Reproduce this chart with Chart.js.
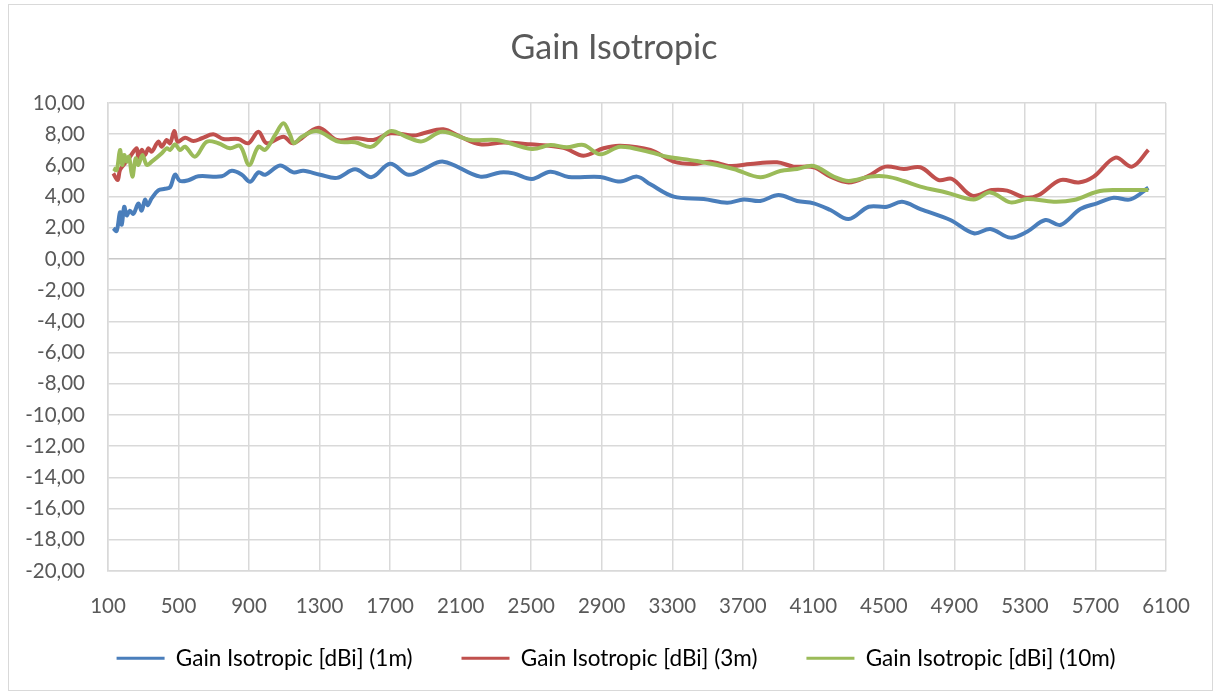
<!DOCTYPE html>
<html>
<head>
<meta charset="utf-8">
<title>Gain Isotropic</title>
<script src="https://cdn.jsdelivr.net/npm/chart.js@4.4.1/dist/chart.umd.min.js"></script>
<style>
  html, body { margin: 0; padding: 0; background: #fff; }
  #wrap { position: relative; width: 1218px; height: 693px; overflow: hidden; }
  #frame { position: absolute; left: 8px; top: 4px; width: 1203px; height: 685px; border: 1px solid #d9d9d9; pointer-events: none; }
  canvas { position: absolute; left: 0; top: 0; }
</style>
</head>
<body>
<div id="wrap"><canvas id="gain" width="1218" height="693"></canvas><div id="frame"></div></div>
<script>
// Gain Isotropic chart

const xTicks = [100, 500, 900, 1300, 1700, 2100, 2500, 2900, 3300, 3700, 4100, 4500, 4900, 5300, 5700, 6100];
const yTicks = [-20, -18, -16, -14, -12, -10, -8, -6, -4, -2, 0, 2, 4, 6, 8, 10];

const freq1m = [130, 149, 168, 178, 192, 206, 224, 244, 272, 291, 310, 325, 348, 385, 423, 452, 480, 508, 556, 612,
  745, 802, 859, 906, 953, 991, 1076, 1151, 1208, 1303, 1398, 1501, 1596, 1700, 1804, 1889, 2002, 2211, 2324, 2400,
  2504, 2608, 2712, 2892, 3005, 3100, 3176, 3308, 3478, 3611, 3705, 3799, 3903, 4008, 4102, 4197, 4300, 4414, 4518,
  4603, 4707, 4877, 5010, 5104, 5218, 5312, 5416, 5501, 5614, 5709, 5803, 5898, 6000];
const gain1m = [1.97, 1.8, 3.0, 2.2, 3.35, 2.8, 3.1, 2.9, 3.55, 3.1, 3.8, 3.45, 3.9, 4.4, 4.5, 4.6, 5.4, 5.0, 5.05, 5.3,
  5.3, 5.65, 5.4, 4.95, 5.55, 5.4, 6.0, 5.55, 5.65, 5.4, 5.2, 5.75, 5.25, 6.1, 5.4, 5.75, 6.24, 5.28, 5.55, 5.49,
  5.13, 5.6, 5.26, 5.26, 4.96, 5.28, 4.79, 4.0, 3.85, 3.61, 3.82, 3.72, 4.1, 3.72, 3.57, 3.14, 2.56, 3.35, 3.35,
  3.67, 3.2, 2.5, 1.65, 1.92, 1.37, 1.75, 2.5, 2.18, 3.2, 3.57, 3.93, 3.82, 4.57];

const freq3m = [130, 155, 168, 196, 225, 263, 272, 291, 310, 329, 348, 385, 405, 433, 452, 476, 495, 537, 584, 632,
  697, 754, 839, 896, 953, 1000, 1095, 1151, 1293, 1398, 1511, 1605, 1700, 1832, 1889, 2002, 2097, 2211, 2343, 2494,
  2683, 2797, 2910, 3005, 3176, 3308, 3421, 3516, 3629, 3742, 3894, 3988, 4102, 4197, 4300, 4405, 4509, 4613, 4707,
  4811, 4887, 5000, 5114, 5199, 5303, 5378, 5501, 5605, 5690, 5813, 5908, 6000];
const gain3m = [5.49, 5.06, 5.7, 6.13, 6.56, 7.1, 6.45, 6.99, 6.67, 7.1, 6.88, 7.52, 7.2, 7.63, 7.42, 8.2, 7.52, 7.78, 7.56, 7.74,
  7.99, 7.69, 7.69, 7.42, 8.16, 7.42, 7.84, 7.42, 8.42, 7.63, 7.74, 7.63, 8.06, 7.91, 8.06, 8.31, 7.84, 7.35, 7.46, 7.35,
  7.13, 6.62, 7.1, 7.26, 6.99, 6.24, 6.09, 6.24, 5.96, 6.09, 6.2, 5.92, 5.88, 5.28, 4.91, 5.28, 5.92, 5.77, 5.88,
  5.06, 5.13, 4.06, 4.42, 4.38, 3.93, 4.1, 5.06, 4.91, 5.28, 6.5, 5.92, 6.99];

const freq10m = [130, 149, 168, 181, 192, 206, 219, 238, 257, 272, 295, 320, 348, 405, 433, 452, 480, 508, 537, 594,
  660, 726, 792, 849, 900, 953, 991, 1048, 1095, 1133, 1155, 1199, 1284, 1407, 1501, 1596, 1700, 1795, 1880, 1995,
  2154, 2305, 2504, 2608, 2702, 2797, 2892, 3005, 3176, 3270, 3440, 3648, 3799, 3912, 4008, 4102, 4215, 4300, 4423,
  4518, 4613, 4707, 4858, 5010, 5104, 5218, 5312, 5463, 5577, 5709, 5803, 6000];
const gain10m = [5.81, 5.7, 6.99, 6.03, 6.67, 6.24, 6.56, 5.28, 6.45, 6.03, 6.67, 6.03, 6.24, 6.78, 7.1, 6.99, 7.35, 6.99, 7.2, 6.56,
  7.52, 7.42, 7.1, 7.25, 6.03, 7.2, 6.99, 7.95, 8.7, 7.95, 7.42, 7.84, 8.2, 7.52, 7.48, 7.2, 8.2, 7.82, 7.54, 8.16,
  7.63, 7.63, 7.05, 7.31, 7.16, 7.31, 6.71, 7.2, 6.84, 6.56, 6.28, 5.77, 5.24, 5.64, 5.77, 5.96, 5.28, 5.0, 5.28,
  5.28, 5.0, 4.64, 4.25, 3.82, 4.27, 3.63, 3.85, 3.67, 3.78, 4.31, 4.42, 4.42];

const seriesLabels = ['Gain Isotropic [dBi] (1m)', 'Gain Isotropic [dBi] (3m)', 'Gain Isotropic [dBi] (10m)'];
const seriesColors = ['#4a7ebb', '#c0504d', '#9bbb59'];

const GRID = '#d9d9d9';
const TEXT = '#595959';

Chart.defaults.font.family = 'Lato, "Noto Sans", sans-serif';
Chart.defaults.color = TEXT;

function points(xs, ys) {
  return xs.map((x, i) => ({ x: x, y: ys[i] }));
}

function makeSet(i, xs, ys, order) {
  return {
    label: seriesLabels[i],
    data: points(xs, ys),
    borderColor: seriesColors[i],
    backgroundColor: seriesColors[i],
    borderWidth: 4,
    pointRadius: 0,
    tension: 0.35,
    fill: false,
    order: order
  };
}

// nudge title + legend so they sit where the reference has them
// (the layout only centres them between the paddings)
const nudgeBlocks = {
  id: 'nudgeBlocks',
  afterLayout(chart) {
    const t = chart.titleBlock;
    const lg = chart.legend;
    if (t) { t.left += 22; t.right += 22; }
    if (lg) { lg.left += 24; lg.right += 24; lg.top -= 20; lg.bottom -= 20; }
  }
};

const ctx = document.getElementById('gain').getContext('2d');
new Chart(ctx, {
  type: 'line',
  data: {
    datasets: [
      makeSet(0, freq1m, gain1m, 2),
      makeSet(1, freq3m, gain3m, 1),
      makeSet(2, freq10m, gain10m, 0)
    ]
  },
  plugins: [nudgeBlocks],
  options: {
    responsive: false,
    animation: false,
    devicePixelRatio: 1,
    layout: { padding: { left: 18, right: 52, top: 0, bottom: -6.5 } },
    plugins: {
      title: {
        display: true,
        text: 'Gain Isotropic',
        color: TEXT,
        font: { size: 34, weight: 'normal' },
        padding: { top: 27.6, bottom: 34.6 }
      },
      legend: {
        position: 'bottom',
        labels: {
          boxWidth: 48,
          boxHeight: 3,
          padding: 49,
          color: TEXT,
          font: { size: 22.5 },
          generateLabels: chart => chart.data.datasets.map((ds, i) => ({
            text: ds.label,
            fillStyle: ds.borderColor,
            strokeStyle: ds.borderColor,
            lineWidth: 0,
            hidden: false,
            datasetIndex: i
          }))
        }
      },
      tooltip: { enabled: false }
    },
    scales: {
      x: {
        type: 'linear',
        min: 100,
        max: 6100,
        afterBuildTicks: scale => { scale.ticks = xTicks.map(v => ({ value: v })); },
        afterFit: scale => { scale.height = 47; },
        grid: { color: GRID, lineWidth: 1.5, drawTicks: false },
        border: { color: GRID, width: 1.5 },
        ticks: {
          padding: 23.5,
          autoSkip: false,
          maxRotation: 0,
          color: TEXT,
          font: { size: 20.5 },
          callback: v => String(v)
        }
      },
      y: {
        min: -20,
        max: 10,
        afterBuildTicks: scale => { scale.ticks = yTicks.map(v => ({ value: v })); },
        afterFit: scale => { scale.width = 90; },
        grid: {
          color: c => (c.tick && c.tick.value === 0 ? '#c8c8c8' : GRID),
          lineWidth: 1.5,
          drawTicks: false
        },
        border: { color: GRID, width: 1.5 },
        ticks: {
          padding: 23,
          color: TEXT,
          font: { size: 20.5 },
          callback: v => Number(v).toFixed(2).replace('.', ',')
        }
      }
    }
  }
});
</script>
</body>
</html>
